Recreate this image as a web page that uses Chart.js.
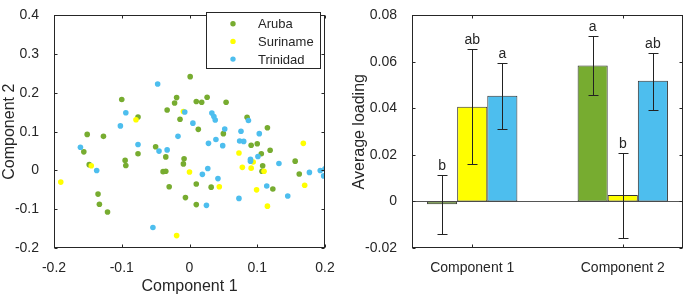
<!DOCTYPE html>
<html>
<head>
<meta charset="utf-8">
<script src="https://cdn.jsdelivr.net/npm/chart.js@4.4.1/dist/chart.umd.min.js"></script>
<style>
  body { margin: 0; background: #fff; }
  #wrap { position: relative; width: 685px; height: 297px; }
  canvas { position: absolute; top: 0; }
</style>
</head>
<body>
<div id="wrap">
  <canvas id="scatter" width="340" height="297" style="left:0"></canvas>
  <canvas id="bars" width="345" height="297" style="left:340px"></canvas>
</div>
<script>
const sites = ['Aruba', 'Suriname', 'Trinidad'];
const siteColors = ['#77AC30', '#FFFF00', '#4DBEEE'];

// scatter: PCA scores
const arubaX = [0.001, -0.100, -0.151, -0.127, -0.156, -0.148, -0.076, -0.076, -0.095, -0.094, -0.135, -0.133, -0.121, -0.033, -0.019, -0.022, -0.014, -0.050, -0.035, -0.039, -0.035, -0.030, -0.008, -0.009, -0.006, 0.010, 0.018, 0.026, 0.054, 0.013, 0.050, 0.010, 0.010, 0.032, 0.085, 0.091, 0.100, 0.115, 0.106, 0.119, 0.108, 0.107, 0.123, 0.156, 0.162];
const arubaY = [0.242, 0.183, 0.093, 0.088, 0.048, 0.015, 0.138, 0.043, 0.026, 0.013, -0.061, -0.087, -0.107, 0.156, 0.188, 0.174, 0.132, 0.061, 0.035, -0.003, -0.002, -0.042, 0.030, 0.017, -0.070, 0.178, 0.176, 0.189, 0.176, 0.106, 0.095, -0.035, -0.088, -0.043, 0.137, 0.065, 0.069, 0.110, 0.043, 0.052, 0.012, -0.002, -0.048, 0.024, -0.009];
const surinameX = [-0.190, -0.145, -0.079, -0.009, 0.000, -0.019, 0.044, 0.073, 0.078, 0.091, 0.094, 0.110, 0.099, 0.115, 0.168, 0.170];
const surinameY = [-0.030, 0.012, 0.131, 0.152, -0.004, -0.168, -0.042, 0.045, 0.008, 0.006, 0.022, -0.002, -0.050, -0.092, 0.070, -0.038];
const trinidadX = [-0.047, -0.094, -0.102, -0.161, -0.137, -0.076, -0.045, -0.033, -0.007, 0.005, -0.017, -0.054, 0.033, 0.036, 0.038, 0.052, 0.039, 0.028, 0.049, 0.076, 0.087, 0.074, 0.080, 0.103, 0.090, 0.090, 0.101, 0.027, 0.019, 0.042, 0.025, 0.073, 0.114, 0.132, 0.145, 0.177, 0.193, 0.200, 0.198];
const trinidadY = [0.223, 0.149, 0.115, 0.060, 0.000, 0.067, 0.050, 0.053, 0.151, 0.122, 0.088, -0.147, 0.148, 0.139, 0.130, 0.107, 0.080, 0.070, 0.064, 0.101, 0.129, 0.076, 0.075, 0.095, 0.029, 0.024, 0.036, 0.005, -0.010, -0.021, -0.090, -0.072, -0.040, 0.018, -0.066, -0.005, 0.000, 0.004, -0.014];

// bars: average loading with error bars
const groups = ['Component 1', 'Component 2'];
const arubaMean = [-0.0012, 0.0585];
const arubaHi = [0.0112, 0.0710];
const arubaLo = [-0.0139, 0.0458];
const surinameMean = [0.0407, 0.0028];
const surinameHi = [0.0654, 0.0210];
const surinameLo = [0.0161, -0.0156];
const trinidadMean = [0.0455, 0.0519];
const trinidadHi = [0.0596, 0.0640];
const trinidadLo = [0.0310, 0.0394];
const arubaLetters = ['b', 'a'];
const surinameLetters = ['ab', 'b'];
const trinidadLetters = ['a', 'ab'];

const scatterTicks = [-0.2, -0.1, 0, 0.1, 0.2];
const scatterYTicks = [-0.2, -0.1, 0, 0.1, 0.2, 0.3, 0.4];
const barYTicks = [-0.02, 0, 0.02, 0.04, 0.06, 0.08];

Chart.defaults.font.family = "'Liberation Sans', Arial, sans-serif";
Chart.defaults.color = '#262626';
const axisColor = '#262626';

function pts(xs, ys) {
    return xs.map((x, i) => ({ x: x, y: ys[i] }));
}

// box around the plot with inward tick marks
const boxPlugin = {
    id: 'box',
    afterDatasetsDraw(chart) {
        const { ctx, chartArea: a, scales } = chart;
        const L = Math.round(a.left) + 0.5, R = Math.round(a.right) - 0.5;
        const T = Math.round(a.top) + 0.5, B = Math.round(a.bottom) - 0.5;
        ctx.save();
        ctx.strokeStyle = axisColor;
        ctx.lineWidth = 1;
        ctx.strokeRect(L, T, R - L, B - T);
        ctx.beginPath();
        scales.x.ticks.forEach(t => {
            const px = Math.round(scales.x.getPixelForValue(t.value)) + 0.5;
            ctx.moveTo(px, B); ctx.lineTo(px, B - 3);
            ctx.moveTo(px, T); ctx.lineTo(px, T + 3);
        });
        scales.y.ticks.forEach(t => {
            const py = Math.round(scales.y.getPixelForValue(t.value)) + 0.5;
            ctx.moveTo(L, py); ctx.lineTo(L + 3, py);
            ctx.moveTo(R, py); ctx.lineTo(R - 3, py);
        });
        ctx.stroke();
        ctx.restore();
    }
};

const legendPlugin = {
    id: 'boxLegend',
    afterDraw(chart) {
        const ctx = chart.ctx;
        ctx.save();
        ctx.fillStyle = '#fff';
        ctx.fillRect(206, 12, 115, 57);
        ctx.strokeStyle = axisColor;
        ctx.lineWidth = 1;
        ctx.strokeRect(206.5, 12.5, 114, 56);
        ctx.font = "13px 'Liberation Sans', Arial, sans-serif";
        ctx.textBaseline = 'middle';
        sites.forEach((s, i) => {
            const y = 23.7 + i * 17.7;
            ctx.fillStyle = siteColors[i];
            ctx.beginPath();
            ctx.arc(233, y, 2.7, 0, Math.PI * 2);
            ctx.fill();
            ctx.fillStyle = axisColor;
            ctx.fillText(s, 258, y + 1);
        });
        ctx.restore();
    }
};

function fmt(v) {
    return Math.abs(v) < 1e-9 ? '0' : String(+v.toFixed(2));
}

new Chart(document.getElementById('scatter'), {
    type: 'scatter',
    data: {
        datasets: [
            { label: sites[0], data: pts(arubaX, arubaY), backgroundColor: siteColors[0], order: 3 },
            { label: sites[1], data: pts(surinameX, surinameY), backgroundColor: siteColors[1], order: 2 },
            { label: sites[2], data: pts(trinidadX, trinidadY), backgroundColor: siteColors[2], order: 1 }
        ]
    },
    options: {
        responsive: false,
        animation: false,
        layout: { padding: { top: 7, right: 15 } },
        elements: { point: { radius: 2.8, borderWidth: 0, hoverRadius: 2.8 } },
        plugins: { legend: { display: false }, tooltip: { enabled: false } },
        scales: {
            x: {
                min: -0.2, max: 0.2,
                afterBuildTicks: s => { s.ticks = scatterTicks.map(v => ({ value: v })); },
                afterFit: s => { s.height = 49; },
                grid: { display: false },
                border: { display: false },
                ticks: { font: { size: 14 }, padding: 4, callback: v => fmt(v) },
                title: { display: true, text: 'Component 1', font: { size: 16 }, padding: { top: 0, bottom: 1 } }
            },
            y: {
                min: -0.2, max: 0.4,
                afterBuildTicks: s => { s.ticks = scatterYTicks.map(v => ({ value: v })); },
                afterFit: s => { s.width = 54; },
                grid: { display: false },
                border: { display: false },
                ticks: { font: { size: 14 }, padding: 7, callback: v => fmt(v) },
                title: { display: true, text: 'Component 2', font: { size: 16 }, padding: { top: 0, bottom: 0 } }
            }
        }
    },
    plugins: [boxPlugin, legendPlugin]
});

const barSets = [
    { mean: arubaMean, hi: arubaHi, lo: arubaLo, letters: arubaLetters },
    { mean: surinameMean, hi: surinameHi, lo: surinameLo, letters: surinameLetters },
    { mean: trinidadMean, hi: trinidadHi, lo: trinidadLo, letters: trinidadLetters }
];

const zeroLine = {
    id: 'zeroLine',
    beforeDatasetsDraw(chart) {
        const { ctx, chartArea: a, scales } = chart;
        const y = Math.round(scales.y.getPixelForValue(0)) + 0.5;
        ctx.save();
        ctx.strokeStyle = '#555';
        ctx.lineWidth = 1;
        ctx.beginPath();
        ctx.moveTo(a.left, y); ctx.lineTo(a.right, y);
        ctx.stroke();
        ctx.restore();
    }
};

const errorBars = {
    id: 'errorBars',
    afterDatasetsDraw(chart) {
        const { ctx, scales } = chart;
        ctx.save();
        ctx.strokeStyle = '#222';
        ctx.lineWidth = 1;
        ctx.fillStyle = axisColor;
        ctx.font = "14px 'Liberation Sans', Arial, sans-serif";
        ctx.textAlign = 'center';
        ctx.textBaseline = 'alphabetic';
        barSets.forEach((set, d) => {
            chart.getDatasetMeta(d).data.forEach((bar, i) => {
                const x = Math.round(bar.x) + 0.5;
                const yh = Math.round(scales.y.getPixelForValue(set.hi[i])) + 0.5;
                const yl = Math.round(scales.y.getPixelForValue(set.lo[i])) + 0.5;
                ctx.beginPath();
                ctx.moveTo(x, yh); ctx.lineTo(x, yl);
                ctx.moveTo(x - 5, yh); ctx.lineTo(x + 5, yh);
                ctx.moveTo(x - 5, yl); ctx.lineTo(x + 5, yl);
                ctx.stroke();
                ctx.fillText(set.letters[i], bar.x, yh - 6);
            });
        });
        ctx.restore();
    }
};

new Chart(document.getElementById('bars'), {
    type: 'bar',
    data: {
        datasets: barSets.map((set, d) => ({
            label: sites[d],
            data: set.mean.map((v, i) => ({ x: i + 1, y: v })),
            backgroundColor: siteColors[d],
            borderColor: '#333',
            borderWidth: 1,
            borderSkipped: false,
            categoryPercentage: 0.6,
            barPercentage: 1
        }))
    },
    options: {
        responsive: false,
        animation: false,
        layout: { padding: { top: 7, right: 2 } },
        plugins: { legend: { display: false }, tooltip: { enabled: false } },
        scales: {
            x: {
                type: 'linear',
                min: 0.6, max: 2.4,
                offset: false,
                afterBuildTicks: s => { s.ticks = groups.map((g, i) => ({ value: i + 1 })); },
                afterFit: s => { s.height = 49; },
                grid: { display: false, offset: false },
                border: { display: false },
                ticks: { font: { size: 14 }, padding: 4, callback: v => groups[Math.round(v) - 1] }
            },
            y: {
                min: -0.02, max: 0.08,
                afterBuildTicks: s => { s.ticks = barYTicks.map(v => ({ value: v })); },
                afterFit: s => { s.width = 72; },
                grid: { display: false },
                border: { display: false },
                ticks: { font: { size: 14 }, padding: 7, callback: v => fmt(v) },
                title: { display: true, text: 'Average loading', font: { size: 16 }, padding: { top: 10, bottom: 0 } }
            }
        }
    },
    plugins: [zeroLine, boxPlugin, errorBars]
});
</script>
</body>
</html>
